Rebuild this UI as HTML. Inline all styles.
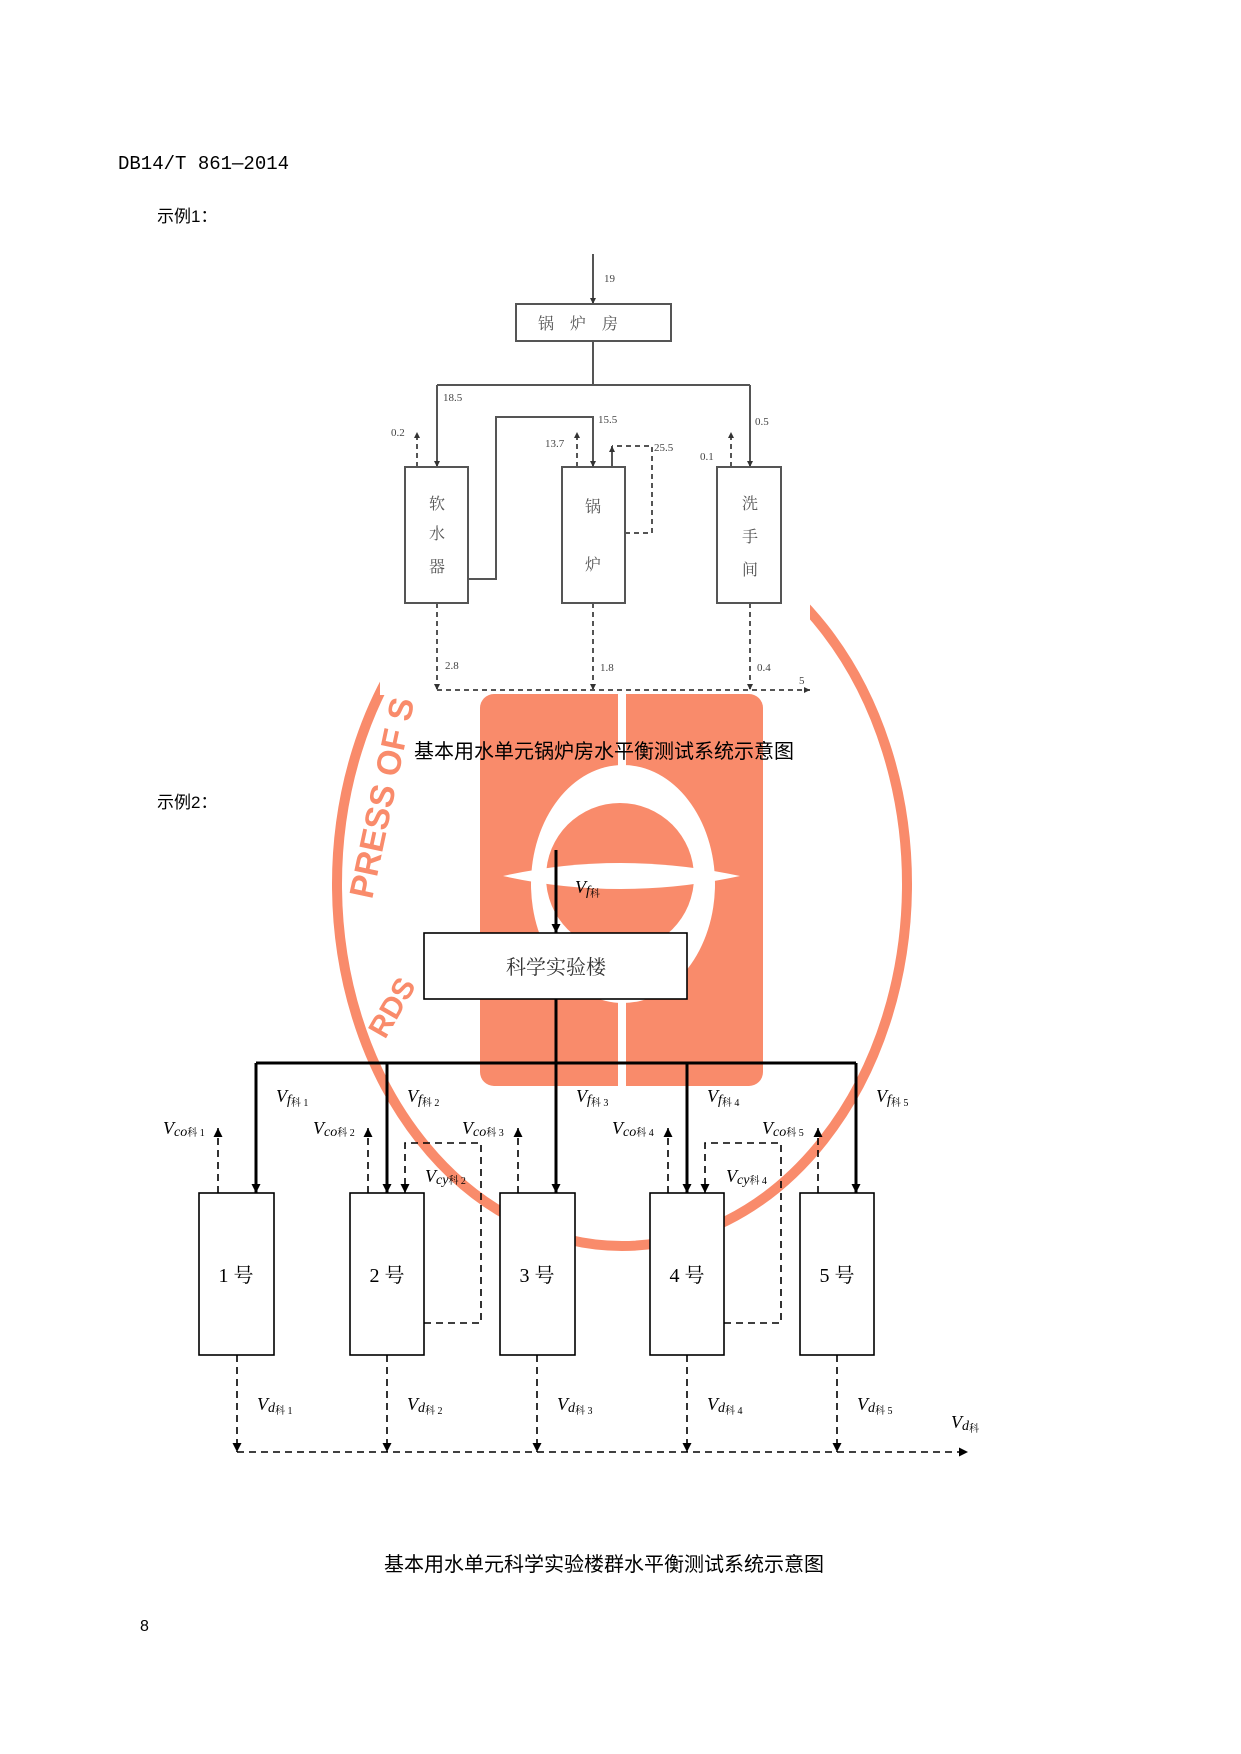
<!DOCTYPE html>
<html><head><meta charset="utf-8"><style>
html,body{margin:0;padding:0;background:#fff}
svg{display:block}
.t{font-family:"Liberation Serif","Noto Serif CJK SC",serif}
.s{font-family:"Liberation Sans","Noto Sans CJK SC",sans-serif}
</style></head><body>
<svg width="1241" height="1754" viewBox="0 0 1241 1754" xmlns="http://www.w3.org/2000/svg">
<defs>
<marker id="ah" viewBox="0 0 10 10" markerWidth="9" markerHeight="12" refX="10" refY="5" orient="auto" markerUnits="userSpaceOnUse"><path d="M0,0 L10,5 L0,10 Z" fill="#000"/></marker>
<marker id="as" viewBox="0 0 10 10" markerWidth="6" markerHeight="8" refX="10" refY="5" orient="auto" markerUnits="userSpaceOnUse"><path d="M0,0 L10,5 L0,10 Z" fill="#333"/></marker>
</defs>
<!-- watermark -->
<ellipse cx="622" cy="884" rx="285" ry="362" fill="none" stroke="#f98b6b" stroke-width="10"/>
<rect x="0" y="0" width="1241" height="604" fill="#fff"/>
<rect x="380" y="600" width="430" height="95" fill="#fff"/>
<rect x="380" y="600" width="30" height="66" fill="#fff"/>
<rect x="480" y="694" width="283" height="392" rx="14" fill="#f98b6b"/>
<rect x="618" y="694" width="8" height="392" fill="#fff"/>
<ellipse cx="623" cy="884" rx="92" ry="119" fill="#fff"/>
<circle cx="620" cy="877" r="74" fill="#f98b6b"/>
<path d="M503,876 Q620,850 740,876 Q620,902 503,876 Z" fill="#fff"/>
<text x="372" y="900" transform="rotate(-78 372 900)" font-family="Liberation Sans" font-weight="bold" font-size="34" fill="#f98b6b">PRESS OF S</text>
<text x="385" y="1040" transform="rotate(-60 385 1040)" font-family="Liberation Sans" font-weight="bold" font-size="30" fill="#f98b6b">RDS</text>

<!-- header -->
<text x="118" y="169" style="font-family:'Liberation Mono',monospace" font-size="19" fill="#000">DB14/T 861—2014</text>
<text x="157" y="222" class="s" font-size="17">示例1：</text>
<text x="157" y="808" class="s" font-size="17">示例2：</text>
<text x="604" y="758" class="s" font-size="20" text-anchor="middle">基本用水单元锅炉房水平衡测试系统示意图</text>
<text x="604" y="1571" class="s" font-size="20" text-anchor="middle">基本用水单元科学实验楼群水平衡测试系统示意图</text>
<text x="140" y="1631" class="s" font-size="16">8</text>

<!-- diagram 1 -->
<g stroke="#555" stroke-width="2" fill="none">
<line x1="593" y1="254" x2="593" y2="304" marker-end="url(#as)"/>
<rect x="516" y="304" width="155" height="37" fill="#fff"/>
<polyline points="593,341 593,385"/>
<polyline points="437,385 750,385"/>
<line x1="437" y1="385" x2="437" y2="467" marker-end="url(#as)"/>
<line x1="750" y1="385" x2="750" y2="467" marker-end="url(#as)"/>
<rect x="405" y="467" width="63" height="136" fill="#fff"/>
<rect x="562" y="467" width="63" height="136" fill="#fff"/>
<rect x="717" y="467" width="64" height="136" fill="#fff"/>
<polyline points="468,579 496,579 496,417 593,417 593,467" />
<line x1="593" y1="440" x2="593" y2="467" marker-end="url(#as)"/>
</g>
<g stroke="#555" stroke-width="2" fill="none" stroke-dasharray="5,4">
<line x1="417" y1="467" x2="417" y2="432" marker-end="url(#as)"/>
<line x1="577" y1="467" x2="577" y2="432" marker-end="url(#as)"/>
<line x1="731" y1="467" x2="731" y2="432" marker-end="url(#as)"/>
<polyline points="625,533 652,533 652,446 612,446"/>
<line x1="612" y1="467" x2="612" y2="446" stroke-dasharray="none" marker-end="url(#as)"/>
<line x1="437" y1="603" x2="437" y2="690" marker-end="url(#as)"/>
<line x1="593" y1="603" x2="593" y2="690" marker-end="url(#as)"/>
<line x1="750" y1="603" x2="750" y2="690" marker-end="url(#as)"/>
<line x1="437" y1="690" x2="810" y2="690" marker-end="url(#as)"/>
</g>
<g class="t" font-size="11" fill="#444">
<text x="604" y="282">19</text>
<text x="443" y="401">18.5</text>
<text x="598" y="423">15.5</text>
<text x="755" y="425">0.5</text>
<text x="391" y="436">0.2</text>
<text x="545" y="447">13.7</text>
<text x="654" y="451">25.5</text>
<text x="700" y="460">0.1</text>
<text x="445" y="669">2.8</text>
<text x="600" y="671">1.8</text>
<text x="757" y="671">0.4</text>
<text x="799" y="684">5</text>
</g>
<g class="t" font-size="16" fill="#555" text-anchor="middle">
<text x="578" y="329">锅　炉　房</text>
<text x="437" y="509">软</text><text x="437" y="539">水</text><text x="437" y="572">器</text>
<text x="593" y="512">锅</text><text x="593" y="570">炉</text>
<text x="750" y="509">洗</text><text x="750" y="542">手</text><text x="750" y="575">间</text>
</g>

<!-- diagram 2 -->
<g stroke="#000" stroke-width="3" fill="none">
<line x1="556" y1="850" x2="556" y2="933" marker-end="url(#ah)"/>
<line x1="556" y1="999" x2="556" y2="1063"/>
<line x1="256" y1="1063" x2="856" y2="1063"/>
<line x1="256" y1="1063" x2="256" y2="1193" marker-end="url(#ah)"/>
<line x1="387" y1="1063" x2="387" y2="1193" marker-end="url(#ah)"/>
<line x1="556" y1="1063" x2="556" y2="1193" marker-end="url(#ah)"/>
<line x1="687" y1="1063" x2="687" y2="1193" marker-end="url(#ah)"/>
<line x1="856" y1="1063" x2="856" y2="1193" marker-end="url(#ah)"/>
</g>
<g stroke="#000" stroke-width="1.6" fill="#fff">
<rect x="424" y="933" width="263" height="66"/>
<rect x="199" y="1193" width="75" height="162"/>
<rect x="350" y="1193" width="74" height="162"/>
<rect x="500" y="1193" width="75" height="162"/>
<rect x="650" y="1193" width="74" height="162"/>
<rect x="800" y="1193" width="74" height="162"/>
</g>
<g stroke="#000" stroke-width="1.6" fill="none" stroke-dasharray="7,5">
<line x1="218" y1="1193" x2="218" y2="1128" marker-end="url(#ah)"/>
<line x1="368" y1="1193" x2="368" y2="1128" marker-end="url(#ah)"/>
<line x1="518" y1="1193" x2="518" y2="1128" marker-end="url(#ah)"/>
<line x1="668" y1="1193" x2="668" y2="1128" marker-end="url(#ah)"/>
<line x1="818" y1="1193" x2="818" y2="1128" marker-end="url(#ah)"/>
<polyline points="424,1323 481,1323 481,1143 405,1143 405,1193" marker-end="url(#ah)"/>
<polyline points="724,1323 781,1323 781,1143 705,1143 705,1193" marker-end="url(#ah)"/>
<line x1="237" y1="1355" x2="237" y2="1452" marker-end="url(#ah)"/>
<line x1="387" y1="1355" x2="387" y2="1452" marker-end="url(#ah)"/>
<line x1="537" y1="1355" x2="537" y2="1452" marker-end="url(#ah)"/>
<line x1="687" y1="1355" x2="687" y2="1452" marker-end="url(#ah)"/>
<line x1="837" y1="1355" x2="837" y2="1452" marker-end="url(#ah)"/>
<line x1="237" y1="1452" x2="968" y2="1452" marker-end="url(#ah)"/>
</g>
<g class="t" font-size="20" fill="#000" text-anchor="middle">
<text x="556" y="974" fill="#333">科学实验楼</text>
<text x="236" y="1282">1 号</text>
<text x="387" y="1282">2 号</text>
<text x="537" y="1282">3 号</text>
<text x="687" y="1282">4 号</text>
<text x="837" y="1282">5 号</text>
</g>
<g class="t" font-size="18" font-style="italic" fill="#000">
<text x="575" y="893">V<tspan font-size="14" dy="2">f</tspan><tspan font-size="10" font-style="normal" dy="2">科</tspan></text>
<text x="276" y="1102">V<tspan font-size="14" dy="2">f</tspan><tspan font-size="10" font-style="normal" dy="2">科 1</tspan></text>
<text x="407" y="1102">V<tspan font-size="14" dy="2">f</tspan><tspan font-size="10" font-style="normal" dy="2">科 2</tspan></text>
<text x="576" y="1102">V<tspan font-size="14" dy="2">f</tspan><tspan font-size="10" font-style="normal" dy="2">科 3</tspan></text>
<text x="707" y="1102">V<tspan font-size="14" dy="2">f</tspan><tspan font-size="10" font-style="normal" dy="2">科 4</tspan></text>
<text x="876" y="1102">V<tspan font-size="14" dy="2">f</tspan><tspan font-size="10" font-style="normal" dy="2">科 5</tspan></text>
<text x="163" y="1134">V<tspan font-size="14" dy="2">co</tspan><tspan font-size="10" font-style="normal" dy="0">科 1</tspan></text>
<text x="313" y="1134">V<tspan font-size="14" dy="2">co</tspan><tspan font-size="10" font-style="normal" dy="0">科 2</tspan></text>
<text x="462" y="1134">V<tspan font-size="14" dy="2">co</tspan><tspan font-size="10" font-style="normal" dy="0">科 3</tspan></text>
<text x="612" y="1134">V<tspan font-size="14" dy="2">co</tspan><tspan font-size="10" font-style="normal" dy="0">科 4</tspan></text>
<text x="762" y="1134">V<tspan font-size="14" dy="2">co</tspan><tspan font-size="10" font-style="normal" dy="0">科 5</tspan></text>
<text x="425" y="1182">V<tspan font-size="14" dy="2">cy</tspan><tspan font-size="10" font-style="normal" dy="0">科 2</tspan></text>
<text x="726" y="1182">V<tspan font-size="14" dy="2">cy</tspan><tspan font-size="10" font-style="normal" dy="0">科 4</tspan></text>
<text x="257" y="1410">V<tspan font-size="14" dy="2">d</tspan><tspan font-size="10" font-style="normal" dy="2">科 1</tspan></text>
<text x="407" y="1410">V<tspan font-size="14" dy="2">d</tspan><tspan font-size="10" font-style="normal" dy="2">科 2</tspan></text>
<text x="557" y="1410">V<tspan font-size="14" dy="2">d</tspan><tspan font-size="10" font-style="normal" dy="2">科 3</tspan></text>
<text x="707" y="1410">V<tspan font-size="14" dy="2">d</tspan><tspan font-size="10" font-style="normal" dy="2">科 4</tspan></text>
<text x="857" y="1410">V<tspan font-size="14" dy="2">d</tspan><tspan font-size="10" font-style="normal" dy="2">科 5</tspan></text>
<text x="951" y="1428">V<tspan font-size="14" dy="2">d</tspan><tspan font-size="10" font-style="normal" dy="2">科</tspan></text>
</g>
</svg>
</body></html>
